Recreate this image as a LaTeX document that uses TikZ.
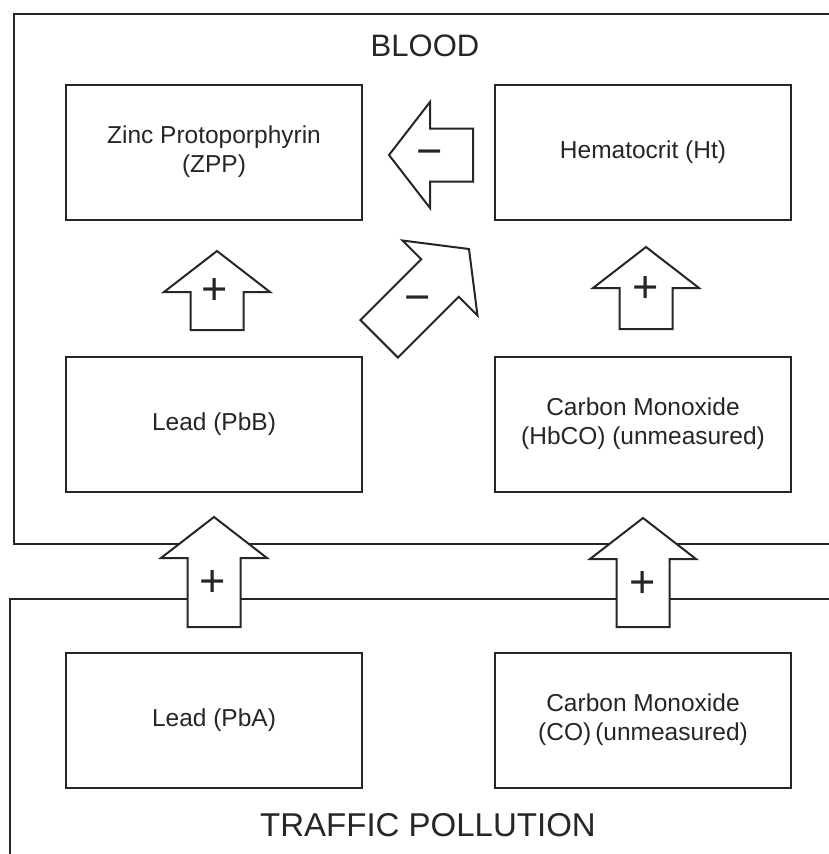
\documentclass[tikz,border=0pt]{standalone}
\usepackage{fontspec}
\setmainfont{Liberation Sans}

\begin{document}
\begin{tikzpicture}[x=1pt, y=-1pt, black!85,
    box/.style={draw, line width=2pt, minimum width=296pt, minimum height=135pt,
        align=center, font=\fontsize{24.5}{29}\selectfont},
    title/.style={font=\fontsize{31}{31}\selectfont},
    sign/.style={font=\fontsize{45}{45}\selectfont, inner sep=0pt,
        text height=30pt, text depth=0pt},
    blockarrow/.pic={\draw[line width=2pt, fill=white] (0,0) -- (-41,-53) -- (-41,-26.5)
        -- (-#1,-26.5) -- (-#1,26.5) -- (-41,26.5) -- (-41,53) -- cycle;}]
    \useasboundingbox (0,0) rectangle (829,854);
    \clip (0,0) rectangle (829,854);

    % the two areas
    \draw [line width=2pt] (14,14) rectangle (860,544);
    \draw [line width=2pt] (10,599) rectangle (860,880);
    \node (blood) at (425,46) [title] {BLOOD};
    \node (traffic) at (428,825) [title, font=\fontsize{33}{33}\selectfont] {TRAFFIC POLLUTION};

    % measures
    \node (zpp) at (214,152) [box] {Zinc Protoporphyrin\\(ZPP)};
    \node (ht) at (643,152) [box] {Hematocrit (Ht)};
    \node (pbb) at (214,424) [box] {Lead (PbB)};
    \node (hbco) at (643,424) [box] {Carbon Monoxide\\(HbCO) (unmeasured)};
    \node (pba) at (214,720) [box] {Lead (PbA)};
    \node (co) at (643,720) [box] {Carbon Monoxide\\(CO)\,(unmeasured)};

    % arrow tips
    \coordinate (T1) at (389,155);
    \coordinate (T2) at (217,251);
    \coordinate (T3) at (646,247);
    \coordinate (T4) at (469,249);
    \coordinate (T5) at (214,517);
    \coordinate (T6) at (643,518);

    \pic [rotate=180] at (T1) {blockarrow=84};
    \pic [rotate=90] at (T2) {blockarrow=79};
    \pic [rotate=90] at (T3) {blockarrow=82};
    \pic [rotate=45] at (T4) {blockarrow=127};
    \pic [rotate=90] at (T5) {blockarrow=110};
    \pic [rotate=90] at (T6) {blockarrow=109};

    \node (s1) at (430,151) [sign] {−};
    \node (s2) at (215,289) [sign] {+};
    \node (s3) at (646,287) [sign] {+};
    \node (s4) at (418,297) [sign] {−};
    \node (s5) at (213,581) [sign] {+};
    \node (s6) at (643,582) [sign] {+};
\end{tikzpicture}
\end{document}
